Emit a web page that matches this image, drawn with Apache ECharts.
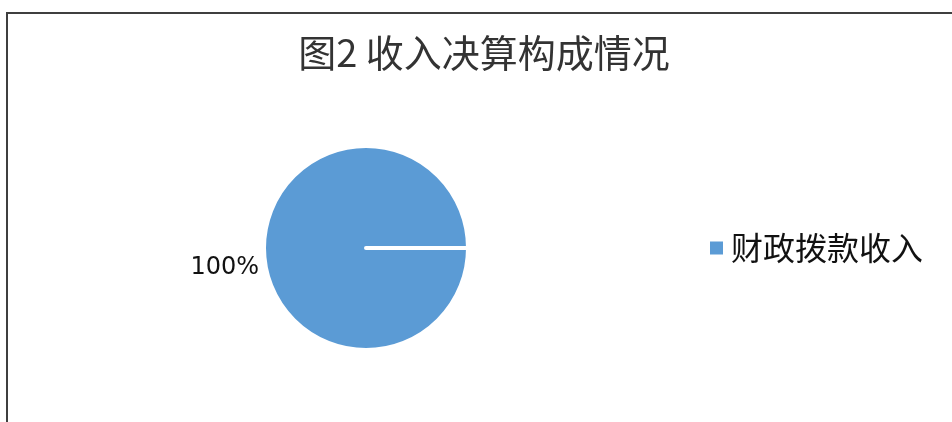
<!DOCTYPE html>
<html>
<head>
<meta charset="utf-8">
<script src="https://cdn.jsdelivr.net/npm/echarts@6/dist/echarts.min.js"></script>
<style>
  html, body { margin: 0; padding: 0; background: #fff; }
  #frame { position: absolute; left: 6px; top: 12px; width: 960px; height: 430px; border: 2px solid #3f3f3f; box-sizing: border-box; }
  #chart { position: absolute; left: 0; top: 0; width: 952px; height: 422px; }
</style>
</head>
<body>
<div id="frame"></div>
<div id="chart"></div>
<script>
const titleText = '图2 收入决算构成情况';
const categories = ['财政拨款收入'];
const values = [100];
const colors = ['#5b9bd5'];

const chart = echarts.init(document.getElementById('chart'), null, { renderer: 'canvas' });
chart.setOption({
  backgroundColor: 'transparent',
  animation: false,
  color: colors,
  title: {
    text: titleText,
    left: 479,
    textAlign: 'center',
    top: 29,
    textStyle: { fontFamily: 'Noto Sans CJK SC', fontSize: 38, fontWeight: 'normal', color: '#333' }
  },
  legend: {
    orient: 'vertical',
    left: 708,
    top: 232,
    padding: 0,
    itemWidth: 15,
    itemHeight: 15,
    icon: 'rect',
    data: categories,
    textStyle: { fontFamily: 'Noto Sans CJK SC', fontSize: 32, color: '#111', padding: [0, 0, 0, 2] }
  },
  series: [{
    type: 'pie',
    center: [366, 248],
    radius: 102,
    startAngle: 0,
    endAngle: -359.9,
    clockwise: true,
    data: categories.map((c, i) => ({ name: c, value: values[i] })),
    itemStyle: { borderColor: '#fff', borderWidth: 4 },
    emphasis: { disabled: true },
    label: {
      show: true,
      position: 'outside',
      formatter: '{d}%',
      fontFamily: 'DejaVu Sans',
      fontSize: 24,
      color: '#111'
    },
    labelLine: { show: false, length: 0, length2: 0 },
    labelLayout: { dy: 20 }
  }]
});
</script>
</body>
</html>
